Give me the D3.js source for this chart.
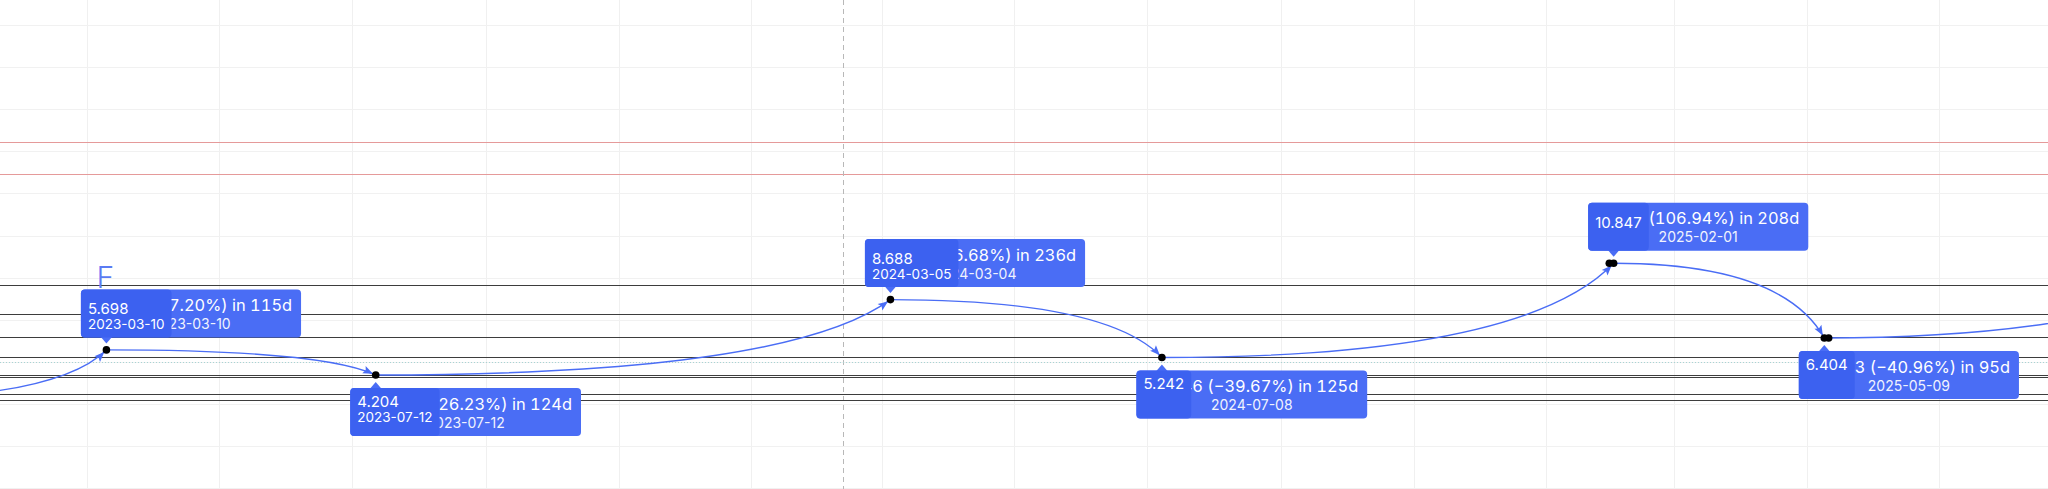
<!DOCTYPE html>
<html>
<head>
<meta charset="utf-8">
<script src="https://cdn.jsdelivr.net/npm/d3@7"></script>
<style>
  body { margin: 0; background: #fff; }
  svg { display: block; font-family: Inter, "Noto Sans", sans-serif; }
  .tnum { font-variant-numeric: tabular-nums; }
</style>
</head>
<body>
<svg id="svg" width="2048" height="489"></svg>
<script>
var width = 2048;
var height = 489;

// pivots (first and last sit off screen, they only feed the curves)
var pivotDates = ['2022-11-15', '2023-03-10', '2023-07-12', '2024-03-05', '2024-07-08', '2025-02-01', '2025-05-09', '2025-12-15'];
var pivotValues = [2.750, 5.698, 4.204, 8.688, 5.242, 10.847, 6.404, 14.1];
var pivotKinds = ['low', 'high', 'low', 'high', 'low', 'high', 'low', 'high'];

// labels for the visible pivots (index 1..6)
var changeAbs = ['2.948', '\u22121.494', '4.484', '\u22123.446', '5.605', '\u22124.443'];
var changePct = ['107.20%', '\u221226.23%', '106.68%', '\u221239.67%', '106.94%', '\u221240.96%'];
var changeDays = [115, 124, 236, 125, 208, 95];
var changeDates = ['2023-03-10', '2023-07-12', '2024-03-04', '2024-07-08', '2025-02-01', '2025-05-09'];
var priceDates = ['2023-03-10', '2023-07-12', '2024-03-05', '', '', ''];

var extraDotDates = ['2025-01-30', '2025-05-11'];
var extraDotValues = [10.847, 6.404];

var levelValues = [9.575, 7.850, 6.435, 5.293, 4.217, 4.068, 3.075, 2.706];
var redLevels = [18.05, 16.16];
var lastPrice = 4.96;
var cursorDate = '2024-02-12';
var gridValues = [-2.5, 0, 2.5, 5, 7.5, 10, 12.5, 15, 17.5, 20, 22.5, 25];

var parse = d3.utcParse('%Y-%m-%d');
var fmt = d3.format('.3f');

var x = d3.scaleUtc()
    .domain([parse('2023-01-20'), parse('2025-08-20')])
    .range([0, width]);

var y = d3.scaleLinear()
    .domain([-2.575, 26.506])
    .range([height, 0]);

var svg = d3.select('svg');

// grid
svg.append('g').selectAll('line')
    .data(x.ticks(d3.utcMonth.every(2)))
    .enter().append('line')
    .attr('x1', function(d){ return Math.round(x(d)) + .5; })
    .attr('x2', function(d){ return Math.round(x(d)) + .5; })
    .attr('y1', 0).attr('y2', height)
    .attr('stroke', '#f0f0f0');

svg.append('g').selectAll('line')
    .data(gridValues)
    .enter().append('line')
    .attr('x1', 0).attr('x2', width)
    .attr('y1', function(d){ return Math.round(y(d)) + .5; })
    .attr('y2', function(d){ return Math.round(y(d)) + .5; })
    .attr('stroke', '#f1f1f1');

// red levels
svg.append('g').selectAll('line')
    .data(redLevels)
    .enter().append('line')
    .attr('x1', 0).attr('x2', width)
    .attr('y1', function(d){ return Math.round(y(d)) + .5; })
    .attr('y2', function(d){ return Math.round(y(d)) + .5; })
    .attr('stroke', '#e59a9a')
    .attr('stroke-width', 1.2);

// cursor line
svg.append('line')
    .attr('x1', Math.round(x(parse(cursorDate))) + .5)
    .attr('x2', Math.round(x(parse(cursorDate))) + .5)
    .attr('y1', 0).attr('y2', height)
    .attr('stroke', '#b8b8b8')
    .attr('stroke-dasharray', '5,4');

// last price dotted
svg.append('line')
    .attr('x1', 0).attr('x2', width)
    .attr('y1', Math.round(y(lastPrice)) + .5)
    .attr('y2', Math.round(y(lastPrice)) + .5)
    .attr('stroke', '#a8d4d4')
    .attr('stroke-dasharray', '1,2');

// dark levels
svg.append('g').selectAll('line')
    .data(levelValues)
    .enter().append('line')
    .attr('x1', 0).attr('x2', width)
    .attr('y1', function(d){ return Math.round(y(d)) + .5; })
    .attr('y2', function(d){ return Math.round(y(d)) + .5; })
    .attr('stroke', '#3d3d3d')
    .attr('stroke-width', 1);

var blue = '#4a6df5';
var blueDark = '#3c61f0';

svg.append('defs').append('marker')
    .attr('id', 'arrow')
    .attr('markerUnits', 'userSpaceOnUse')
    .attr('markerWidth', 12).attr('markerHeight', 10)
    .attr('refX', 13).attr('refY', 4)
    .attr('orient', 'auto')
    .attr('overflow', 'visible')
    .append('path')
    .attr('d', 'M0,0 L10,4 L0,8 L2,4 z')
    .attr('fill', blue);

var pts = pivotDates.map(function(d, i){
    return { px: x(parse(d)), py: y(pivotValues[i]), kind: pivotKinds[i], v: pivotValues[i] };
});

// curves
svg.append('g').selectAll('path')
    .data(d3.pairs(pts))
    .enter().append('path')
    .attr('d', function(p){
        var a = p[0], b = p[1];
        var cx = a.px + 0.8 * (b.px - a.px);
        return 'M' + a.px + ',' + a.py + ' Q' + cx + ',' + a.py + ' ' + b.px + ',' + b.py;
    })
    .attr('fill', 'none')
    .attr('stroke', blue)
    .attr('stroke-width', 1.4)
    .attr('marker-end', 'url(#arrow)');

// dots
var visible = pts.slice(1, 7);
svg.append('g').selectAll('circle')
    .data(visible.concat(extraDotDates.map(function(d, i){
        return { px: x(parse(d)), py: y(extraDotValues[i]) };
    })))
    .enter().append('circle')
    .attr('cx', function(d){ return d.px; })
    .attr('cy', function(d){ return d.py; })
    .attr('r', 3.8)
    .attr('fill', '#000');

// label boxes
var boxH = 48;
visible.forEach(function(p, i){
    var g = svg.append('g');
    var left = p.px - 25.5;
    var top = p.kind === 'high' ? p.py - 12.5 - boxH : p.py + 13;

    var t1 = g.append('text')
        .attr('class', 'tnum')
        .attr('y', top + 21.5)
        .attr('text-anchor', 'middle')
        .attr('font-size', 16.4)
        .attr('fill', '#fff')
        .text(changeAbs[i] + ' (' + changePct[i] + ') in ' + changeDays[i] + 'd');
    var w = t1.node().getComputedTextLength() + 18;
    t1.attr('x', left + w / 2);

    g.append('text')
        .attr('x', left + w / 2)
        .attr('y', top + 39.5)
        .attr('text-anchor', 'middle')
        .attr('font-size', 14)
        .attr('fill', '#fff')
        .attr('opacity', 0.92)
        .text(changeDates[i]);

    g.insert('rect', ':first-child')
        .attr('x', left).attr('y', top)
        .attr('width', w).attr('height', boxH)
        .attr('rx', 4)
        .attr('fill', blue);

    // pointer
    var tip = p.kind === 'high' ? top + boxH + 6 : top - 6;
    var base = p.kind === 'high' ? top + boxH - 1 : top + 1;
    g.append('path')
        .attr('d', 'M' + (p.px - 6) + ',' + base + ' L' + p.px + ',' + tip + ' L' + (p.px + 6) + ',' + base + ' z')
        .attr('fill', blue);

    // small price box
    var sg = g.append('g');
    var py1 = p.kind === 'high' ? top + 25 : top + 18.5;
    var py2 = p.kind === 'high' ? top + 40 : top + 34;
    var pt = sg.append('text')
        .attr('x', left + 7).attr('y', py1)
        .attr('font-size', 15)
        .attr('fill', '#fff')
        .text(fmt(p.v));
    var sw = pt.node().getComputedTextLength();
    if (priceDates[i]) {
        var dt = sg.append('text')
            .attr('x', left + 7).attr('y', py2)
            .attr('font-size', 13.5)
            .attr('fill', '#fff')
            .text(priceDates[i]);
        sw = Math.max(sw, dt.node().getComputedTextLength());
    }
    sg.insert('rect', ':first-child')
        .attr('x', left).attr('y', top)
        .attr('width', sw + 14).attr('height', boxH)
        .attr('rx', 4)
        .attr('fill', blueDark);
});

// F mark above the first high
svg.append('text')
    .attr('x', visible[0].px - 1)
    .attr('y', visible[0].py - 12.5 - boxH - 1)
    .attr('text-anchor', 'middle')
    .attr('font-size', 30)
    .attr('font-weight', 300)
    .attr('fill', '#5b7bf3')
    .text('F');
</script>
</body>
</html>
